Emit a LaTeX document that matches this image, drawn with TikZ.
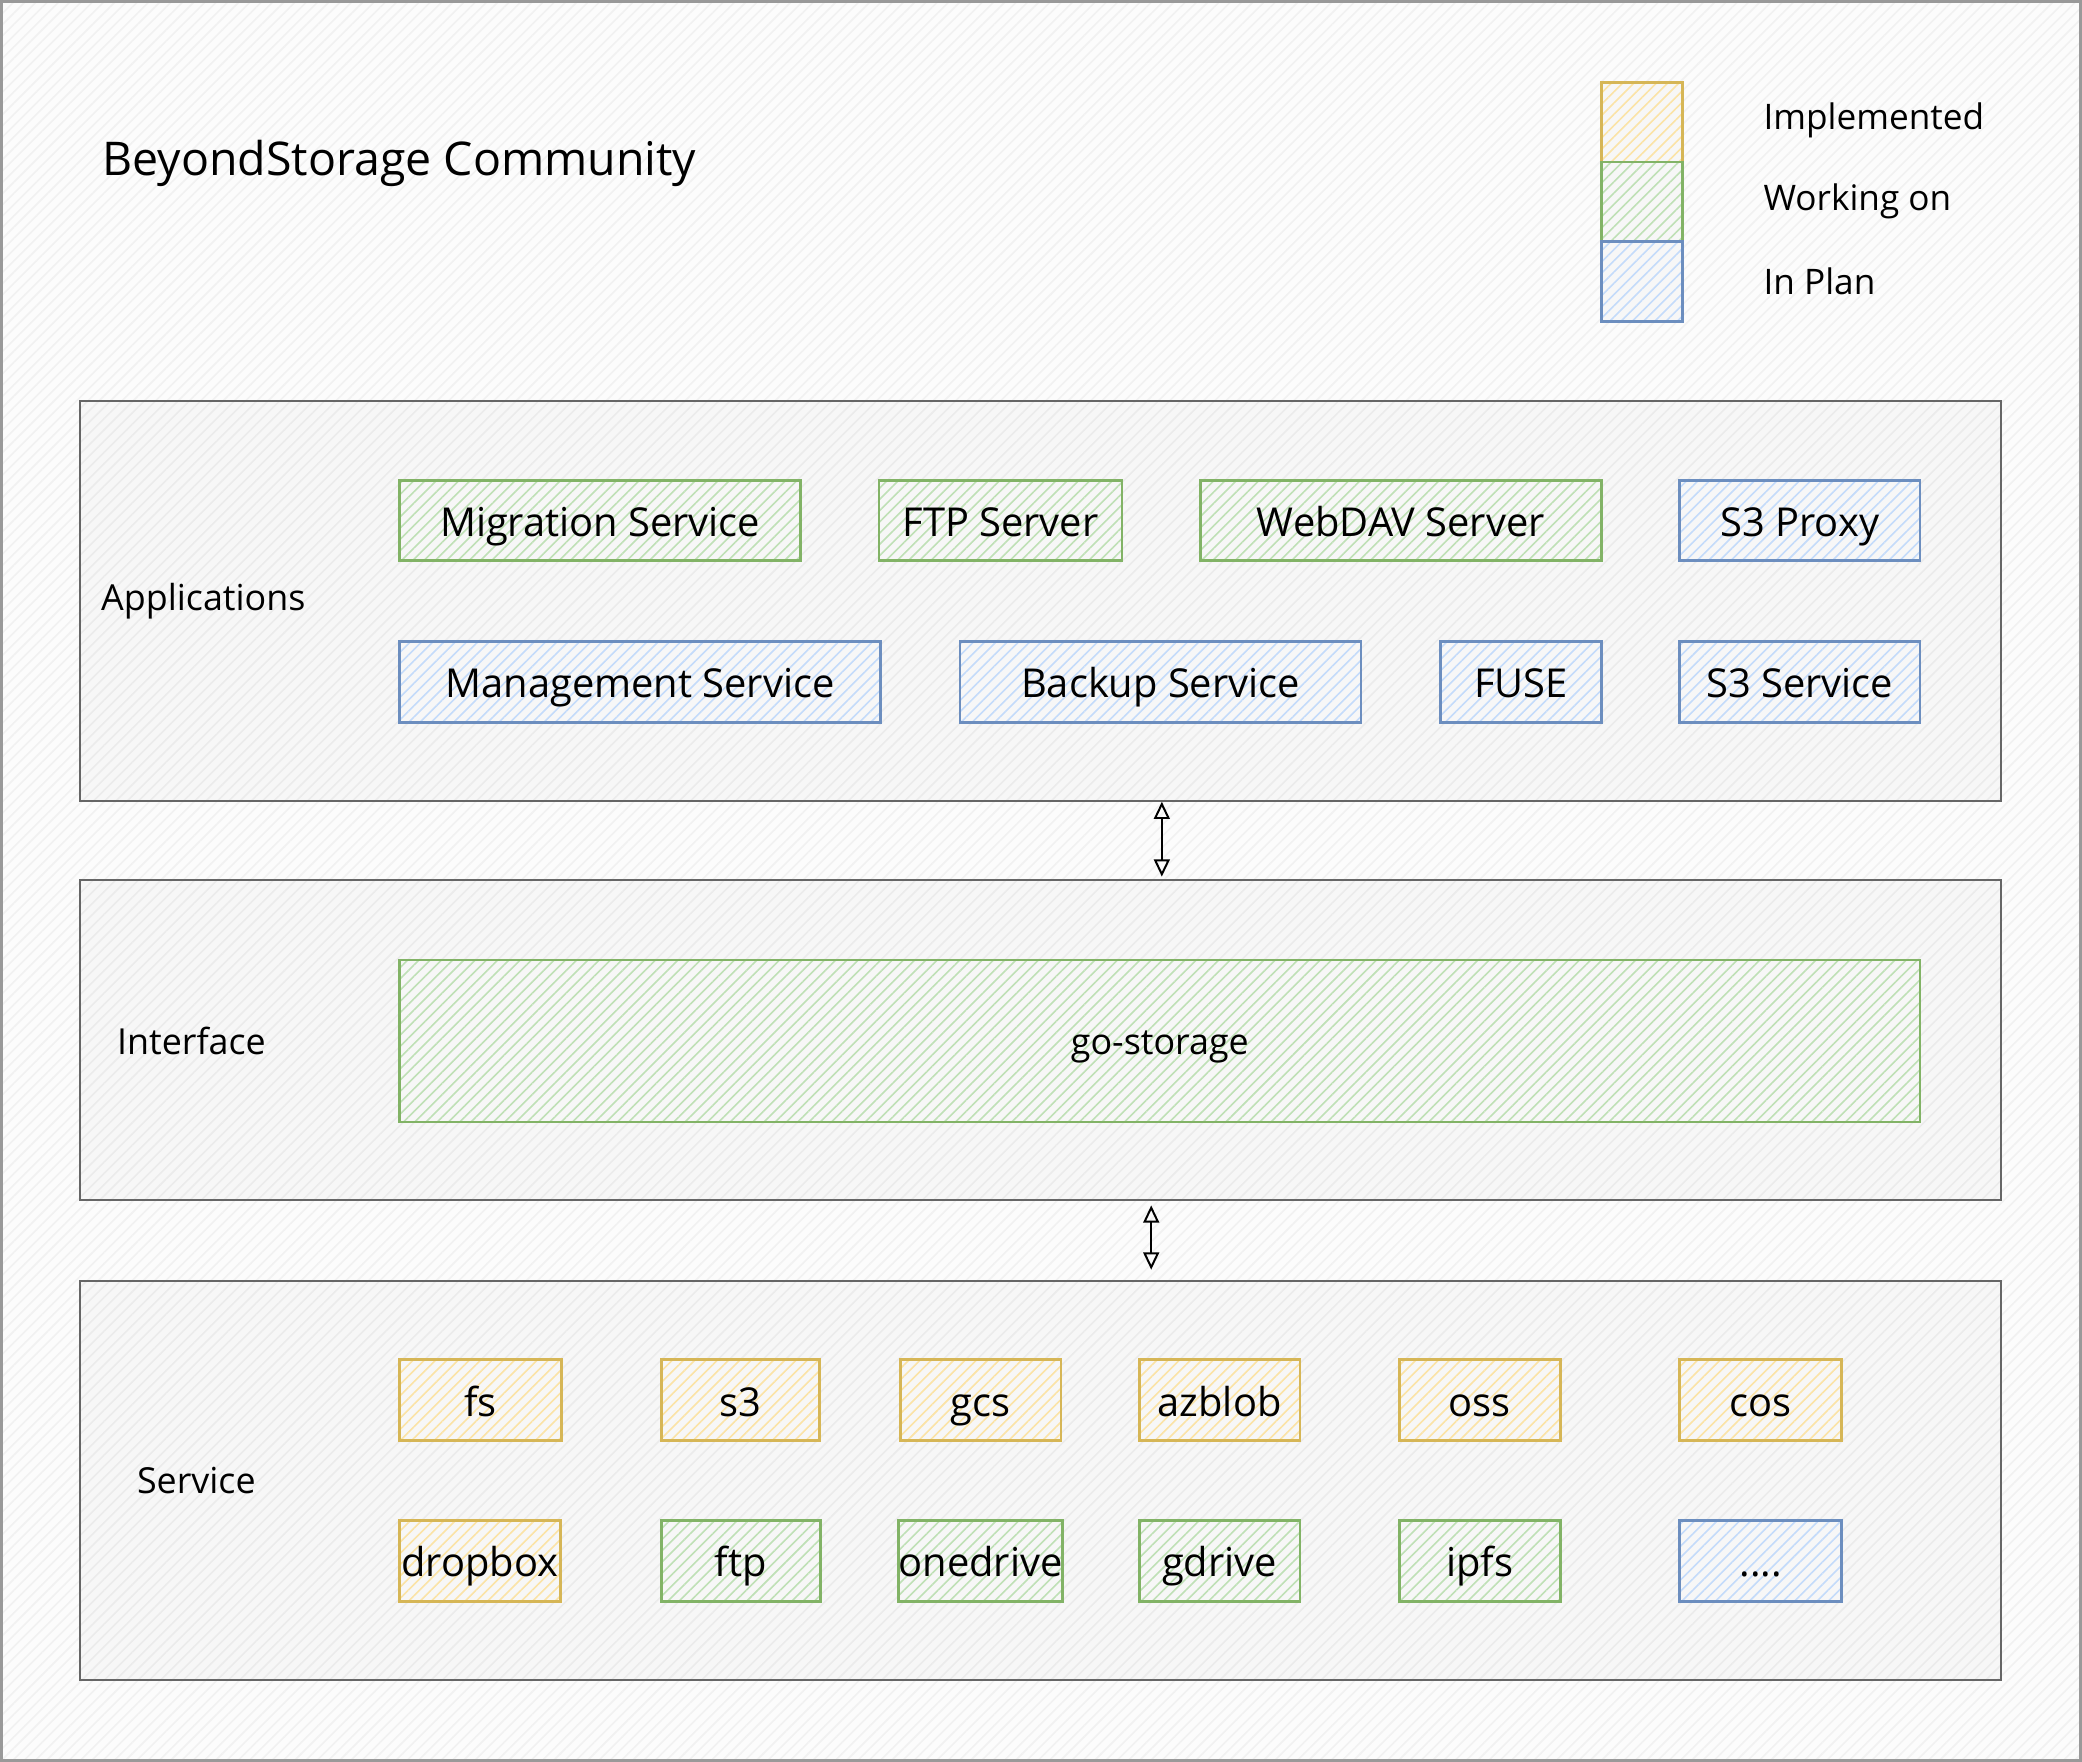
\documentclass[tikz,border=0pt]{standalone}
\usepackage{fontspec}
\setmainfont{Open Sans}
\usetikzlibrary{patterns.meta,arrows.meta}
\definecolor{ystroke}{HTML}{D6B656}
\definecolor{yhatch}{HTML}{FBE3A6}
\definecolor{gstroke}{HTML}{82B366}
\definecolor{ghatch}{HTML}{BFE0B6}
\definecolor{bstroke}{HTML}{6C8EBF}
\definecolor{bhatch}{HTML}{C4DBFA}
\definecolor{pstroke}{HTML}{666666}
\definecolor{pfill}{HTML}{F7F7F7}
\definecolor{phatch}{HTML}{EBEBEB}
\tikzset{
  hatch/.style={pattern={Lines[angle=45,distance=6pt,line width=1.2pt]},pattern color=#1},
  panel/.style={draw=pstroke,line width=1.6pt,preaction={fill=pfill},hatch=phatch,inner sep=0pt},
  itembox/.style={line width=2pt,inner sep=0pt,font=\fontsize{30}{32}\selectfont,text=black,
    text height=28pt,text depth=4pt},
  ybox/.style={itembox,draw=ystroke,preaction={fill=pfill},hatch=yhatch},
  gbox/.style={itembox,draw=gstroke,preaction={fill=pfill},hatch=ghatch},
  bbox/.style={itembox,draw=bstroke,preaction={fill=pfill},hatch=bhatch},
  plabel/.style={anchor=west,font=\fontsize{27}{30}\selectfont,inner sep=0pt},
  leglabel/.style={anchor=west,font=\fontsize{26.5}{29}\selectfont,inner sep=0pt},
  dbl/.style={{Triangle[open,length=13pt,width=12pt]}-{Triangle[open,length=13pt,width=12pt]},line width=1.5pt,black}
}
\begin{document}
\begin{tikzpicture}[x=1pt,y=-1pt]
% outer frame
\path[draw=gray!80,line width=2pt,preaction={fill=white!60!pfill},hatch=phatch!70]
  (1,1) rectangle (1567,1326);
\useasboundingbox (0,0) rectangle (1568,1327);
% title
\node[anchor=west,font=\fontsize{35}{40}\selectfont,inner sep=0pt] (title) at (77,123) {BeyondStorage Community};
% legend
\node[ybox,minimum width=61,minimum height=60] (legy) at (1236.5,92) {};
\node[gbox,minimum width=61,minimum height=60] (legg) at (1236.5,152) {};
\node[bbox,minimum width=61,minimum height=60] (legb) at (1236.5,212) {};
\node[leglabel] (lty) at (1328,91) {Implemented};
\node[leglabel] (ltg) at (1328,152) {Working on};
\node[leglabel] (ltb) at (1328,212) {In Plan};
% panels
\node[panel,minimum width=1447,minimum height=301] (apps) at (783.5,452.5) {};
\node[panel,minimum width=1447,minimum height=241] (iface) at (783.5,783.5) {};
\node[panel,minimum width=1447,minimum height=300] (serv) at (783.5,1115) {};
\node[plabel] (lapps) at (76,453) {Applications};
\node[plabel] (liface) at (88,784) {Interface};
\node[plabel] (lserv) at (103,1115) {Service};
% applications row 1
\node[gbox,minimum width=302,minimum height=60] (mig) at (452,392) {Migration Service};
\node[gbox,minimum width=183,minimum height=60] (ftps) at (753.5,392) {FTP Server};
\node[gbox,minimum width=302,minimum height=60] (webdav) at (1055,392) {WebDAV Server};
\node[bbox,minimum width=181,minimum height=60] (s3p) at (1355.5,392) {S3 Proxy};
% applications row 2
\node[bbox,minimum width=362,minimum height=61] (mgmt) at (482,513.5) {Management Service};
\node[bbox,minimum width=302,minimum height=61] (backup) at (874,513.5) {Backup Service};
\node[bbox,minimum width=121,minimum height=61] (fuse) at (1145.5,513.5) {FUSE};
\node[bbox,minimum width=181,minimum height=61] (s3s) at (1355.5,513.5) {S3 Service};
% interface
\node[gbox,minimum width=1145,minimum height=122,font=\fontsize{27}{30}\selectfont,text height=24pt,text depth=4pt] (gost) at (873.5,784) {go-storage};
% service row 1
\node[ybox,minimum width=122,minimum height=61] (fs) at (362,1054.5) {fs};
\node[ybox,minimum width=119,minimum height=61] (s3) at (557.5,1054.5) {s3};
\node[ybox,minimum width=121,minimum height=61] (gcs) at (738.5,1054.5) {gcs};
\node[ybox,minimum width=121,minimum height=61] (azb) at (918.5,1054.5) {azblob};
\node[ybox,minimum width=121,minimum height=61] (oss) at (1114.5,1054.5) {oss};
\node[ybox,minimum width=122,minimum height=61] (cos) at (1326,1054.5) {cos};
% service row 2
\node[ybox,minimum width=121,minimum height=61] (dropbox) at (361.5,1175.5) {dropbox};
\node[gbox,minimum width=120,minimum height=61] (ftp) at (558,1175.5) {ftp};
\node[gbox,minimum width=121,minimum height=61] (onedrive) at (738.5,1175.5) {onedrive};
\node[gbox,minimum width=121,minimum height=61] (gdrive) at (918.5,1175.5) {gdrive};
\node[gbox,minimum width=121,minimum height=61] (ipfs) at (1114.5,1175.5) {ipfs};
\node[bbox,minimum width=122,minimum height=61] (more) at (1326,1175.5) {....};
% connectors
\draw[dbl] ([xshift=91.5pt]apps.south) -- ([xshift=91.5pt,yshift=2pt]iface.north);
\draw[dbl,shorten <=3pt,shorten >=8pt] ([xshift=83.5pt]iface.south) -- ([xshift=83.5pt]serv.north);
\end{tikzpicture}
\end{document}
